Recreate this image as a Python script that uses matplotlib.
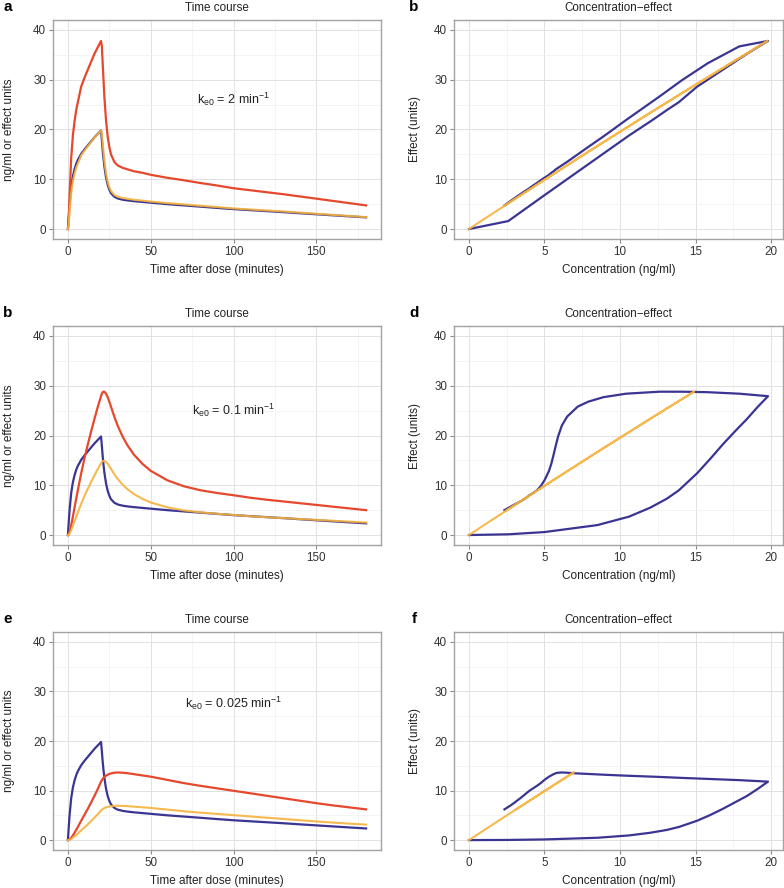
import numpy as np
import matplotlib
matplotlib.use('Agg')
import matplotlib.pyplot as plt

plt.rcParams['font.family'] = ['Liberation Sans', 'DejaVu Sans']
plt.rcParams['mathtext.fontset'] = 'custom'
plt.rcParams['mathtext.rm'] = 'Liberation Sans'
plt.rcParams['mathtext.it'] = 'Liberation Sans:italic'

# time after dose (minutes)
t_min = [0, 0.5, 1, 2, 3, 4, 5, 6, 8, 10, 12, 14, 16, 18, 20,
         20.5, 21, 21.5, 22, 23, 24, 25, 26, 28, 30, 33, 36, 40, 45, 50,
         60, 70, 80, 90, 100, 110, 120, 130, 140, 150, 160, 170, 180]

# plasma concentration (ng/ml), same in all three scenarios
conc_plasma = [0, 2.6, 5.0, 8.5, 10.6, 12.0, 13.1, 13.9, 15.1, 16.0, 16.8, 17.6, 18.4, 19.1, 19.8,
               17.9, 15.8, 14.1, 12.6, 10.4, 8.9, 7.9, 7.2, 6.5, 6.15, 5.9, 5.75, 5.6, 5.45, 5.3,
               5.0, 4.75, 4.5, 4.25, 4.0, 3.8, 3.6, 3.4, 3.18, 2.97, 2.76, 2.55, 2.35]

# ke0 = 2 /min
ce_fast = [0, 0.80, 3.43, 7.27, 9.61, 11.08, 12.29, 13.14, 14.79, 15.76, 16.62, 17.48, 18.35, 19.06, 19.77,
           19.17, 17.32, 15.49, 13.72, 11.23, 9.50, 8.41, 7.63, 6.86, 6.50, 6.24, 6.08, 5.88, 5.72, 5.52,
           5.21, 4.95, 4.67, 4.42, 4.14, 3.93, 3.73, 3.53, 3.30, 3.07, 2.84, 2.62, 2.39]
effect_fast = [0, 1.6, 6.8, 14.3, 18.8, 21.6, 23.9, 25.5, 28.6, 30.4, 32.0, 33.6, 35.2, 36.5, 37.8,
               36.7, 33.3, 29.9, 26.6, 21.9, 18.6, 16.5, 15.0, 13.5, 12.8, 12.3, 12.0, 11.6, 11.3, 10.9,
               10.3, 9.8, 9.25, 8.75, 8.2, 7.8, 7.4, 7.0, 6.55, 6.1, 5.65, 5.2, 4.75]

# ke0 = 0.1 /min
ce_mid = [0, 0.075, 0.30, 1.00, 1.86, 2.77, 3.68, 4.55, 6.29, 7.84, 9.29, 10.66, 11.97, 13.24, 14.42,
          14.68, 14.84, 14.90, 14.90, 14.68, 14.31, 13.83, 13.30, 12.24, 11.29, 10.13, 9.19, 8.20, 7.27, 6.54,
          5.57, 4.95, 4.55, 4.27, 4.04, 3.78, 3.58, 3.40, 3.22, 3.05, 2.87, 2.69, 2.51]
effect_mid = [0, 0.15, 0.6, 2.0, 3.7, 5.5, 7.3, 9.0, 12.4, 15.4, 18.2, 20.8, 23.3, 25.7, 27.9,
              28.4, 28.7, 28.8, 28.8, 28.4, 27.7, 26.8, 25.8, 23.8, 22.0, 19.8, 18.0, 16.1, 14.3, 12.9,
              11.0, 9.8, 9.0, 8.45, 8.0, 7.5, 7.1, 6.75, 6.4, 6.05, 5.7, 5.35, 5.0]

# ke0 = 0.025 /min
ce_slow = [0, 0.015, 0.065, 0.235, 0.47, 0.74, 1.03, 1.33, 1.96, 2.56, 3.17, 3.83, 4.50, 5.21, 5.98,
           6.13, 6.26, 6.36, 6.47, 6.60, 6.70, 6.78, 6.83, 6.90, 6.93, 6.90, 6.85, 6.75, 6.62, 6.49,
           6.16, 5.82, 5.54, 5.29, 5.03, 4.78, 4.52, 4.27, 4.01, 3.76, 3.53, 3.32, 3.12]
effect_slow = [0, 0.03, 0.13, 0.47, 0.94, 1.48, 2.05, 2.65, 3.9, 5.1, 6.3, 7.6, 8.9, 10.3, 11.8,
               12.1, 12.35, 12.55, 12.75, 13.0, 13.2, 13.35, 13.45, 13.6, 13.65, 13.6, 13.5, 13.3, 13.05, 12.8,
               12.15, 11.5, 10.95, 10.45, 9.95, 9.45, 8.95, 8.45, 7.95, 7.45, 7.0, 6.6, 6.2]

ke0_labels = ['2', '0.1', '0.025']
ke0_label_y = [26, 25, 27.5]
left_letters = ['a', 'b', 'e']
right_letters = ['b', 'd', 'f']

RED = '#e5482c'
ORANGE = '#f6b23c'
BLUE = '#3a3592'
TXT = '#222222'

W, H = 784, 888
fig = plt.figure(figsize=(W / 100, H / 100), dpi=100)


def px_axes(x0, y0, x1, y1):
    # axes from pixel box (top-left origin)
    return fig.add_axes([x0 / W, 1 - y1 / H, (x1 - x0) / W, (y1 - y0) / H])


def style(ax, xlim, xmajor, xminor):
    ax.set_xlim(*xlim)
    ax.set_ylim(-2, 42)
    ax.set_xticks(xmajor)
    ax.set_xticks(xminor, minor=True)
    ax.set_yticks([0, 10, 20, 30, 40])
    ax.set_yticks([5, 15, 25, 35], minor=True)
    ax.grid(True, which='major', color='#e2e2e2', lw=0.7)
    ax.grid(True, which='minor', color='#f0f0f0', lw=0.5)
    ax.set_axisbelow(True)
    for s in ax.spines.values():
        s.set_color('#a3a3a3')
        s.set_linewidth(1.0)
    ax.tick_params(which='major', length=3, width=0.8, color='#8a8a8a',
                   labelsize=8.4, labelcolor='#333333', pad=2)
    ax.tick_params(which='minor', length=0)


def add_labels(ax, x0, y0, y1, title, xlabel, ylabel, ylab_x, letter, letter_x):
    # title, axis labels and panel letter placed in pixel positions
    hgt = y1 - y0
    ax.text(0.5, 1 + 12 / hgt, title, transform=ax.transAxes, ha='center',
            va='center', fontsize=8.4, color=TXT)
    ax.text(0.5, -31 / hgt, xlabel, transform=ax.transAxes, ha='center',
            va='center', fontsize=8.5, color=TXT)
    fig.text(ylab_x / W, 1 - (y0 + y1) / 2 / H, ylabel, rotation=90,
             ha='center', va='center', fontsize=8.5, color=TXT)
    fig.text(letter_x / W, 1 - (y0 - 13) / H, letter, fontsize=11,
             fontweight='bold', ha='center', va='center')


rows = [(20, 239), (326, 545), (632, 850)]
scenarios = [(ce_fast, effect_fast), (ce_mid, effect_mid), (ce_slow, effect_slow)]

for i, (y0, y1) in enumerate(rows):
    ce, eff = scenarios[i]

    # time course
    ax = px_axes(53, y0, 381, y1)
    style(ax, (-9, 189), [0, 50, 100, 150], [25, 75, 125, 175])
    ax.plot(t_min, conc_plasma, color=BLUE, lw=1.6)
    ax.plot(t_min, eff, color=RED, lw=1.6)
    ax.plot(t_min, ce, color=ORANGE, lw=1.5, alpha=0.9)
    ax.text(100, ke0_label_y[i],
            r'k$_{\mathrm{e0}}$ = ' + ke0_labels[i] + r' min$^{-1}$',
            ha='center', va='center', fontsize=9, color=TXT)
    add_labels(ax, 53, y0, y1, 'Time course', 'Time after dose (minutes)',
               'ng/ml or effect units', 9, left_letters[i], 8)

    # concentration-effect
    ax = px_axes(454, y0, 783, y1)
    style(ax, (-0.99, 20.79), [0, 5, 10, 15, 20], [2.5, 7.5, 12.5, 17.5])
    ax.plot(conc_plasma, eff, color=BLUE, lw=1.6)
    ax.plot(ce, eff, color=ORANGE, lw=1.5, alpha=0.9)
    add_labels(ax, 454, y0, y1, 'Concentration\u2212effect', 'Concentration (ng/ml)',
               'Effect (units)', 415, right_letters[i], 414)

fig.savefig('out.png', dpi=100)
